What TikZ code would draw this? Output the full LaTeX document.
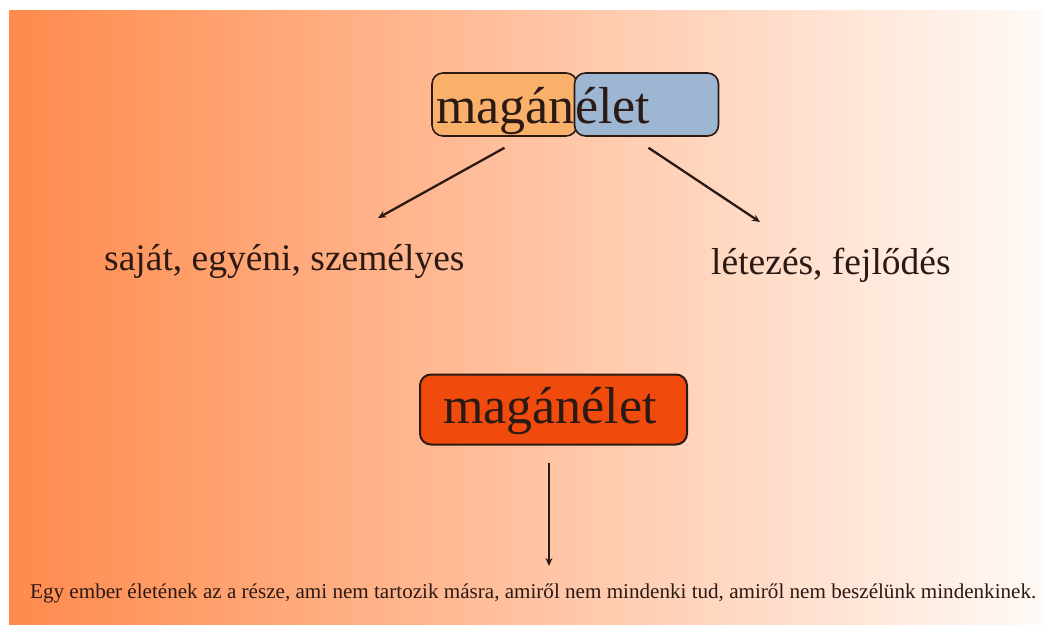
\documentclass[tikz,border=0pt]{standalone}
\usepackage{fontspec}
\setmainfont{Liberation Serif}
\usetikzlibrary{positioning,arrows.meta}
\definecolor{bgleft}{HTML}{FF8A4C}
\definecolor{bgright}{HTML}{FFFAF6}
\definecolor{magancol}{HTML}{F8B06A}
\definecolor{eletcol}{HTML}{9DB7D3}
\definecolor{boxred}{HTML}{F04B0C}
\definecolor{ink}{HTML}{2B1A14}

\begin{document}
\begin{tikzpicture}[x=1pt, y=-1pt,
  every node/.style={text=ink},
  wordbox/.style={draw=ink, line width=1.6pt, rounded corners=11pt, inner sep=0pt},
  arr/.style={draw=ink, line width=2.3pt, -{Stealth[length=8pt, width=7pt]}},
  big/.style={font=\fontsize{52}{60}\selectfont},
  mid/.style={font=\fontsize{37.5}{44}\selectfont},
  tiny/.style={font=\fontsize{21.1}{25}\selectfont}]

\useasboundingbox (0,0) rectangle (1043,624);
\shade[left color=bgleft, right color=bgright] (9,10) rectangle (1043,624);

% --- split word on top ---
\node[wordbox, fill=magancol, minimum width=145pt, minimum height=63pt] (magan) at (504.5,104.5) {};
\node[wordbox, fill=eletcol, minimum width=144pt, minimum height=63pt] (elet) at (646.5,104.5) {};
\node[big, inner sep=0pt, anchor=base east] (magantxt) at (575,123) {magán};
\node[big, inner sep=0pt, anchor=base west] (elettxt) at (575,123) {élet};

% --- meanings ---
\node[mid, inner sep=0pt, anchor=base west] (sajat) at (104,270) {saját, egyéni, személyes};
\node[mid, inner sep=0pt, anchor=base west] (letezes) at (711,274) {létezés, fejlődés};
\coordinate (sajattip) at (378,218);
\coordinate (letezestip) at (760,222);
\draw[arr] ([yshift=-11pt]magan.south) -- (sajattip);
\draw[arr] ([xshift=2pt, yshift=-11pt]elet.south) -- (letezestip);

% --- whole word and definition ---
\node[wordbox, fill=boxred, line width=2pt, minimum width=267pt, minimum height=70pt] (whole) at (553.5,409.5) {};
\node[big, inner sep=0pt, anchor=base] (wholetxt) at (550,423) {magánélet};
\node[tiny, inner sep=0pt, anchor=base west] (defn) at (30,598)
  {Egy ember életének az a része, ami nem tartozik másra, amiről nem mindenki tud, amiről nem beszélünk mindenkinek.};
\coordinate (defntip) at (549,566);
\draw[arr] ([xshift=-4.5pt, yshift=-17pt]whole.south) -- (defntip);

\end{tikzpicture}
\end{document}
